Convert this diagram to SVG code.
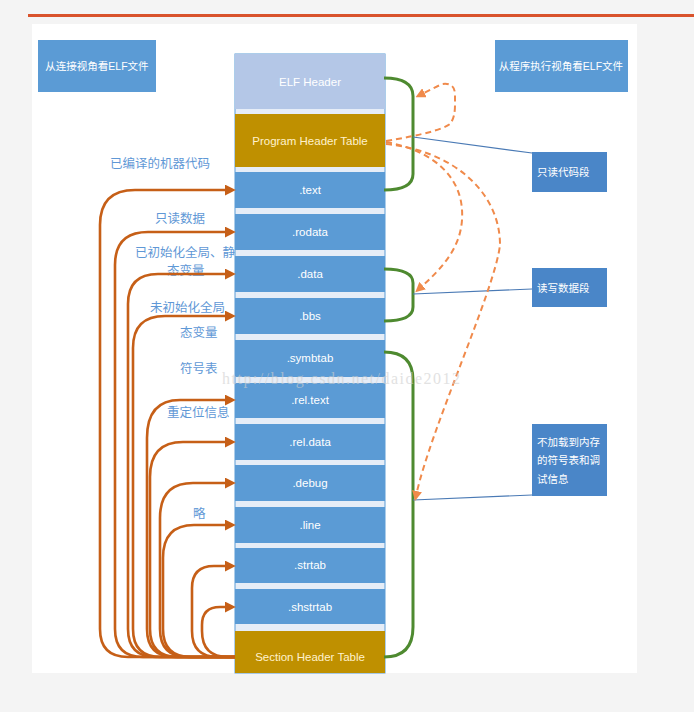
<svg xmlns="http://www.w3.org/2000/svg" width="694" height="712" viewBox="0 0 694 712">
<defs>
<style>
.seg{fill:#5b9bd5}
.gold{fill:#bf9000}
.st{font-family:"Liberation Sans","Noto Sans CJK SC",sans-serif;font-size:11.5px;fill:#ffffff;text-anchor:middle}
.sty{font-family:"Liberation Sans","Noto Sans CJK SC",sans-serif;font-size:11.5px;fill:#fff2cc;text-anchor:middle}
.box{fill:#5b9bd5}
.cbox{fill:#4a86c8}
.bt{font-family:"Liberation Sans","Noto Sans CJK SC",sans-serif;font-size:10.5px;fill:#ffffff}
.lab{font-family:"Noto Sans CJK SC",sans-serif;font-size:12.5px;fill:#5f98d6}
.arr{fill:none;stroke:#c65f17;stroke-width:2.6;marker-end:url(#ah)}
.dash{fill:none;stroke:#f08a4b;stroke-width:2;stroke-dasharray:6 4;marker-end:url(#dh)}
.brk{fill:none;stroke:#4e8a30;stroke-width:3}
.cl{fill:none;stroke:#4a7ab5;stroke-width:1.2}
</style>
<marker id="ah" viewBox="0 0 10 10" refX="2" refY="5" markerWidth="11" markerHeight="11" markerUnits="userSpaceOnUse" orient="auto">
<path d="M0,0 L10,5 L0,10 z" fill="#c65f17"/>
</marker>
<marker id="dh" viewBox="0 0 10 10" refX="5" refY="5" markerWidth="10" markerHeight="10" markerUnits="userSpaceOnUse" orient="auto">
<path d="M0,0 L10,5 L0,10 z" fill="#f08a4b"/>
</marker>
</defs>
<rect x="0" y="0" width="694" height="712" fill="#f4f4f4"/>
<rect x="28" y="14" width="666" height="3" fill="#d9532c"/>
<rect x="32" y="24" width="605" height="649" fill="#ffffff"/>

<g id="labels">
<text class="lab" x="110" y="168">已编译的机器代码</text>
<text class="lab" x="155" y="223">只读数据</text>
<text class="lab" x="135" y="257">已初始化全局、静</text>
<text class="lab" x="167" y="275">态变量</text>
<text class="lab" x="150" y="312">未初始化全局</text>
<text class="lab" x="180" y="337">态变量</text>
<text class="lab" x="180" y="373">符号表</text>
<text class="lab" x="167" y="417">重定位信息</text>
<text class="lab" x="193" y="518">略</text>
</g>

<g id="view-link">
<rect class="box" x="38" y="40" width="118" height="52"/>
<text class="bt" x="97" y="70" text-anchor="middle">从连接视角看ELF文件</text>
</g>
<g id="view-exec">
<rect class="box" x="495" y="40" width="133" height="52"/>
<text class="bt" x="561" y="70" text-anchor="middle">从程序执行视角看ELF文件</text>
</g>

<g id="elf-column">
<rect x="235" y="54" width="150" height="619" fill="#e6edf7" stroke="#5b9bd5" stroke-width="1"/>
<g id="elf-header"><rect x="235" y="54" width="150" height="55" fill="#b4c7e7"/><text class="st" x="310" y="86">ELF Header</text></g>
<g id="program-header-table"><rect class="gold" x="235" y="114" width="150" height="53"/><text class="sty" x="310" y="145">Program Header Table</text></g>
<g id="text"><rect class="seg" x="235" y="172" width="150" height="36"/><text class="st" x="310" y="194">.text</text></g>
<g id="rodata"><rect class="seg" x="235" y="214" width="150" height="36"/><text class="st" x="310" y="236">.rodata</text></g>
<g id="data"><rect class="seg" x="235" y="256" width="150" height="36"/><text class="st" x="310" y="278">.data</text></g>
<g id="bbs"><rect class="seg" x="235" y="298" width="150" height="36"/><text class="st" x="310" y="320">.bbs</text></g>
<g id="symbtab"><rect class="seg" x="235" y="340" width="150" height="37"/><text class="st" x="310" y="362">.symbtab</text></g>
<g id="rel-text"><rect class="seg" x="235" y="383" width="150" height="35"/><text class="st" x="310" y="404">.rel.text</text></g>
<g id="rel-data"><rect class="seg" x="235" y="424" width="150" height="36"/><text class="st" x="310" y="446">.rel.data</text></g>
<g id="debug"><rect class="seg" x="235" y="465" width="150" height="36"/><text class="st" x="310" y="487">.debug</text></g>
<g id="line"><rect class="seg" x="235" y="507" width="150" height="36"/><text class="st" x="310" y="529">.line</text></g>
<g id="strtab"><rect class="seg" x="235" y="548" width="150" height="35"/><text class="st" x="310" y="569">.strtab</text></g>
<g id="shstrtab"><rect class="seg" x="235" y="589" width="150" height="35"/><text class="st" x="310" y="611">.shstrtab</text></g>
<g id="section-header-table"><rect class="gold" x="235" y="631" width="150" height="42"/><text class="sty" x="310" y="661">Section Header Table</text></g>
</g>

<g id="ro-code">
<rect class="cbox" x="532" y="152" width="75" height="40"/>
<text class="bt" x="537" y="176">只读代码段</text>
</g>
<g id="rw-data">
<rect class="cbox" x="532" y="268" width="75" height="39"/>
<text class="bt" x="537" y="292">读写数据段</text>
</g>
<g id="not-loaded">
<rect class="cbox" x="532" y="424" width="75" height="72"/>
<text class="bt" x="537" y="446">不加载到内存</text>
<text class="bt" x="537" y="464">的符号表和调</text>
<text class="bt" x="537" y="483">试信息</text>
</g>

<g id="connectors">
<path class="arr" d="M235,657 H128 Q100,657 100,629 V225 Q100,190 135,190 H227"/>
<path class="arr" d="M235,657 H143 Q115,657 115,629 V265 Q115,232 148,232 H227"/>
<path class="arr" d="M235,657 H156 Q128,657 128,629 V304 Q128,274 158,274 H227"/>
<path class="arr" d="M235,657 H161 Q133,657 133,629 V348 Q133,316 165,316 H227"/>
<path class="arr" d="M235,657 H175 Q147,657 147,629 V438 Q147,400 180,400 H227"/>
<path class="arr" d="M235,657 H178 Q150,657 150,629 V477 Q150,442 183,442 H227"/>
<path class="arr" d="M235,657 H188 Q160,657 160,629 V518 Q160,483 193,483 H227"/>
<path class="arr" d="M235,657 H191 Q163,657 163,629 V558 Q163,525 194,525 H227"/>
<path class="arr" d="M235,657 H218 Q192,657 192,631 V588 Q192,566 214,566 H227"/>
<path class="arr" d="M235,657 H228 Q202,657 202,631 V625 Q202,607 220,607 H227"/>

<path class="brk" d="M384,78 Q413,78 413,96 V174 Q413,190 384,190"/>
<path class="brk" d="M384,269 Q413,269 413,283 V307 Q413,321 384,321"/>
<path class="brk" d="M384,352 Q413,352 413,380 V627 Q413,657 384,657"/>

<path class="cl" d="M413,137 L532,153"/>
<path class="cl" d="M413,294 L532,289"/>
<path class="cl" d="M413,500 L532,495"/>

<path class="dash" d="M386,141 Q440,132 450,124 Q455,118 455,105 V95 Q455,82 442,84 L420,95"/>
<path class="dash" d="M386,142 C430,150 465,175 462,220 C460,250 440,270 419,289"/>
<path class="dash" d="M386,144 C450,150 500,190 500,245 C495,290 430,430 416,496"/>
</g>

<text x="222" y="384" font-family="Liberation Serif, serif" font-size="16" textLength="238" lengthAdjust="spacing" fill="#cfcfcf" opacity="0.6">http://blog.csdn.net/daide2012</text>
</svg>
